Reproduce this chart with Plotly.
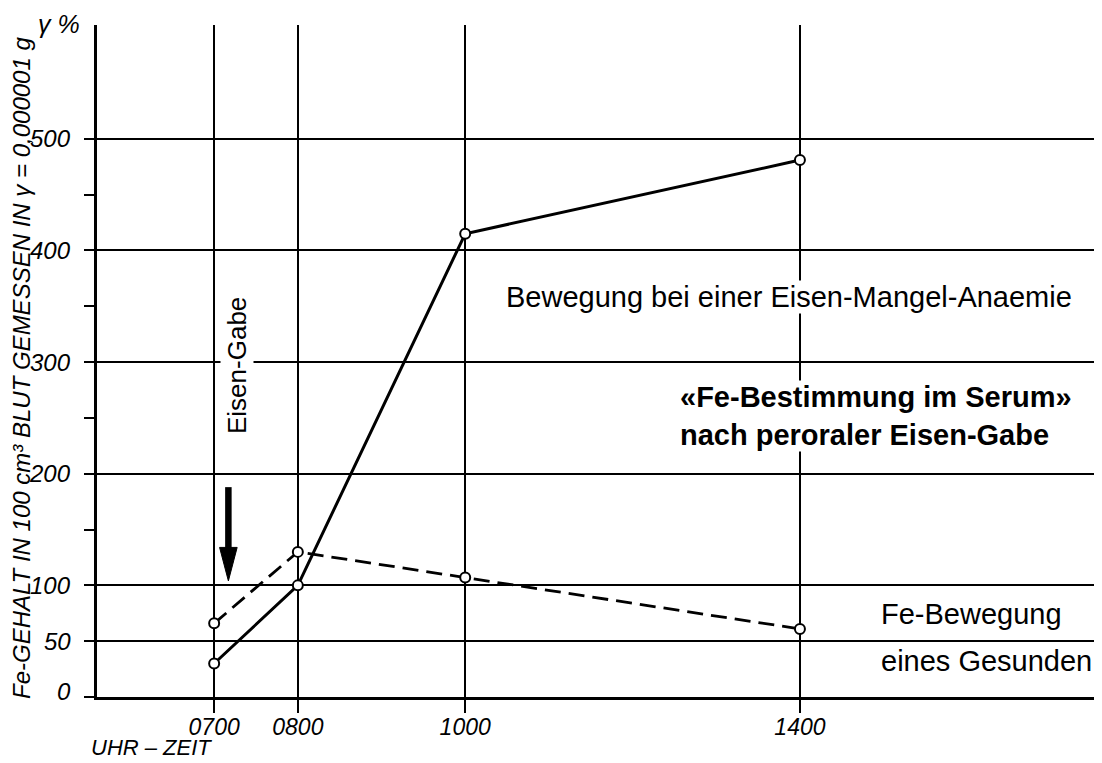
import plotly.graph_objects as go

# ---- data ----
times = [7, 8, 10, 14]                       # clock hour
time_labels = ["0700", "0800", "1000", "1400"]
anaemia = [30, 100, 415, 481]                # Eisen-Mangel-Anaemie
healthy = [66, 130, 107, 61]                 # Gesunder
y_labeled = [0, 50, 100, 200, 300, 400, 500]
y_label_text = ["0", "50", "100", "200", "300", "400", "500"]
y_minor = [150, 250, 350, 450]

# page has an 8px body margin -> figure is 8px smaller each way
W, H = 1094, 755
L, R, T, B = 89, 5, 17, 66
XR = [5.6, 17.55]
YR = [0, 602]
PW = W - L - R
PH = H - T - B

def px(x):          # page pixel -> paper x
    return (x - 8 - L) / PW

def py(y):          # page pixel -> paper y
    return (H - B - (y - 8)) / PH

NARROW = "Liberation Sans, Arial, sans-serif"
SANS = "Liberation Sans, Arial, Helvetica, sans-serif"

fig = go.Figure()

fig.add_trace(go.Scatter(
    x=times, y=healthy, mode="lines+markers",
    line=dict(color="black", width=2.8, dash="16px,8px"),
    marker=dict(symbol="circle", size=10, color="white",
                line=dict(color="black", width=2)),
    showlegend=False, hoverinfo="skip"))

fig.add_trace(go.Scatter(
    x=times, y=anaemia, mode="lines+markers",
    line=dict(color="black", width=3),
    marker=dict(symbol="circle", size=10, color="white",
                line=dict(color="black", width=2)),
    showlegend=False, hoverinfo="skip"))

fig.update_xaxes(
    range=XR, tickmode="array", tickvals=times, ticktext=time_labels,
    showgrid=True, gridcolor="black", gridwidth=1.5,
    ticks="outside", ticklen=13, tickwidth=1.5, tickcolor="black",
    ticklabelstandoff=-6,
    showline=True, linecolor="black", linewidth=3.2,
    zeroline=False, fixedrange=True, automargin=False,
    tickfont=dict(family=NARROW, size=23, color="black", style="italic"),
)
fig.update_yaxes(
    range=YR, tickmode="array", tickvals=y_labeled,
    showticklabels=False,
    showgrid=True, gridcolor="black", gridwidth=1.5,
    ticks="outside", ticklen=10, tickwidth=1.5, tickcolor="black",
    minor=dict(tickmode="array", tickvals=y_minor, ticks="outside",
               ticklen=10, tickwidth=1.5, tickcolor="black", showgrid=False),
    showline=True, linecolor="black", linewidth=3.2,
    zeroline=False, fixedrange=True, automargin=False,
)

# arrow (Eisen-Gabe)
ax_x = 7.17
fig.add_shape(type="line", xref="x", yref="y", x0=ax_x, x1=ax_x, y0=188, y1=130,
              line=dict(color="black", width=6.5))
fig.add_shape(type="path", xref="x", yref="y",
              path=f"M {ax_x-0.105},{134} L {ax_x+0.105},{134} L {ax_x},{104} Z",
              fillcolor="black", line=dict(color="black", width=1))

ann = []
# y tick labels (placed on the y scale, left of the tick marks)
for v, t in zip(y_labeled, y_label_text):
    ann.append(dict(
        text=t, xref="paper", yref="y", x=px(73), y=v,
        yshift=(6 if v == 0 else 0),
        showarrow=False, xanchor="right", yanchor="middle",
        font=dict(family=NARROW, size=24, color="black", style="italic")))
# y-axis title
ann.append(dict(
    text="Fe-GEHALT IN 100 cm³ BLUT GEMESSEN IN γ = 0,000001 g",
    xref="paper", yref="paper", x=px(21), y=py(368), textangle=-90,
    showarrow=False, xanchor="center", yanchor="middle",
    font=dict(family=NARROW, size=24, color="black", style="italic")))
ann.append(dict(
    text="γ %", xref="paper", yref="paper", x=px(59), y=py(24),
    showarrow=False, xanchor="center", yanchor="middle",
    font=dict(family=NARROW, size=25, color="black", style="italic")))
ann.append(dict(
    text="UHR – ZEIT", xref="paper", yref="paper", x=px(151), y=py(747),
    showarrow=False, xanchor="center", yanchor="middle",
    font=dict(family=NARROW, size=22, color="black", style="italic")))
ann.append(dict(
    text="Eisen-Gabe", xref="paper", yref="paper", x=px(237), y=py(366),
    textangle=-90, showarrow=False, xanchor="center", yanchor="middle",
    bgcolor="white", borderpad=1,
    font=dict(family=SANS, size=26, color="black")))
ann.append(dict(
    text="Bewegung bei einer Eisen-Mangel-Anaemie", xref="paper", yref="paper",
    x=px(505), y=py(297), showarrow=False, xanchor="left", yanchor="middle",
    bgcolor="white", borderpad=0,
    font=dict(family=SANS, size=29, color="black")))
ann.append(dict(
    text="«Fe-Bestimmung im Serum»<br>nach peroraler Eisen-Gabe",
    xref="paper", yref="paper", x=px(679), y=py(416), showarrow=False,
    xanchor="left", yanchor="middle", align="left",
    bgcolor="white", borderpad=0,
    font=dict(family=SANS, size=29, color="black", weight="bold")))
ann.append(dict(
    text="Fe-Bewegung", xref="paper", yref="paper", x=px(879), y=py(614),
    showarrow=False, xanchor="left", yanchor="middle",
    font=dict(family=SANS, size=29, color="black")))
ann.append(dict(
    text="eines Gesunden", xref="paper", yref="paper", x=px(879), y=py(661),
    showarrow=False, xanchor="left", yanchor="middle",
    font=dict(family=SANS, size=29, color="black")))

fig.update_layout(
    width=W, height=H,
    margin=dict(l=L, r=R, t=T, b=B),
    paper_bgcolor="white", plot_bgcolor="white",
    showlegend=False, annotations=ann,
)

fig.write_html("out.html")
